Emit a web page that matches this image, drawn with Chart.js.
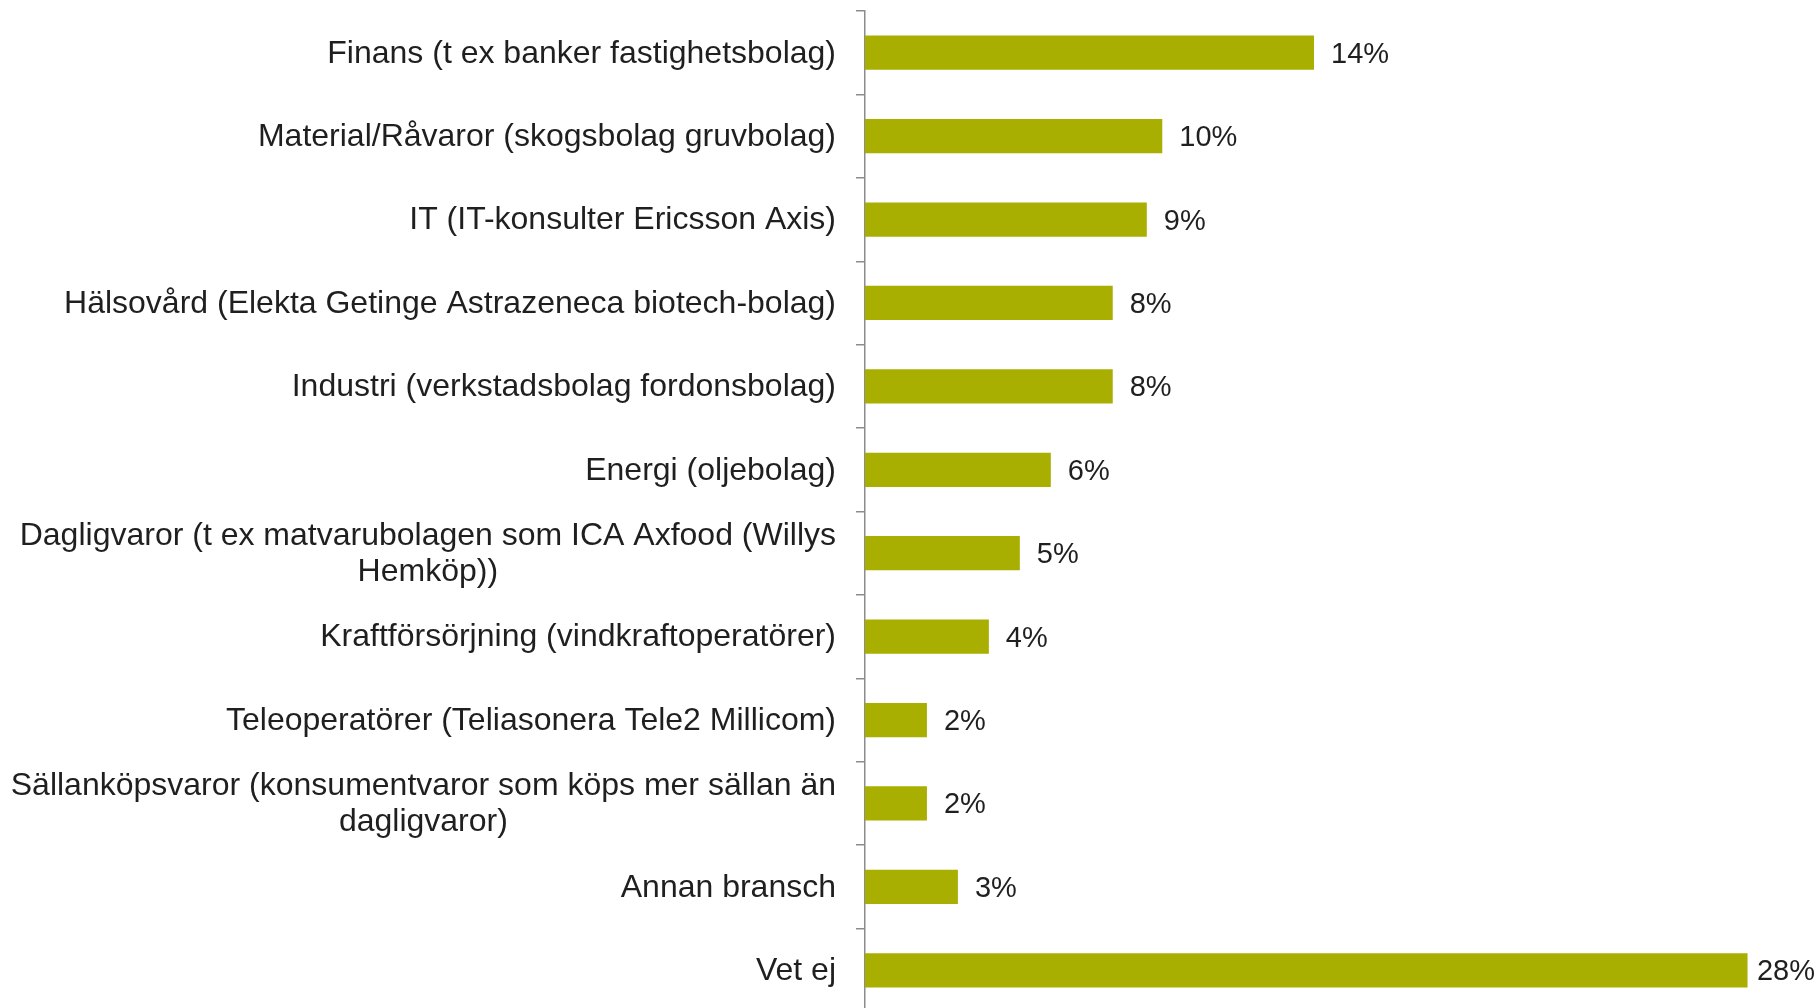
<!DOCTYPE html>
<html>
<head>
<meta charset="utf-8">
<script src="https://cdn.jsdelivr.net/npm/chart.js@4"></script>
<style>
  html, body { margin: 0; background: #fff; overflow: hidden; }
  #wrap { width: 1820px; height: 1012px; position: relative; }
</style>
</head>
<body>
<div id="wrap"><canvas id="branschChart"></canvas></div>
<script>
  // categories (multi-line ones as arrays)
  const categories = [
    'Finans (t ex banker fastighetsbolag)',
    'Material/Råvaror (skogsbolag gruvbolag)',
    'IT (IT-konsulter Ericsson Axis)',
    'Hälsovård (Elekta Getinge Astrazeneca biotech-bolag)',
    'Industri (verkstadsbolag fordonsbolag)',
    'Energi (oljebolag)',
    ['Dagligvaror (t ex matvarubolagen som ICA Axfood (Willys', 'Hemköp))'],
    'Kraftförsörjning (vindkraftoperatörer)',
    'Teleoperatörer (Teliasonera Tele2 Millicom)',
    ['Sällanköpsvaror (konsumentvaror som köps mer sällan än', 'dagligvaror)'],
    'Annan bransch',
    'Vet ej'
  ];
  const shares = [14.5, 9.6, 9.1, 8.0, 8.0, 6.0, 5.0, 4.0, 2.0, 2.0, 3.0, 28.5];
  const valueLabels = ['14%', '10%', '9%', '8%', '8%', '6%', '5%', '4%', '2%', '2%', '3%', '28%'];

  const barColor = '#A8AF00';
  const axisColor = '#8C8C8C';
  const textColor = '#1F1F1F';
  const fontFamily = '"Liberation Sans", Arial, sans-serif';

  // draws the category labels: block right-aligned, lines centred inside the block
  const categoryLabels = {
    id: 'categoryLabels',
    afterDraw(chart) {
      const ctx = chart.ctx;
      const yScale = chart.scales.y;
      const right = chart.chartArea.left - 29;
      const lineHeight = 36;
      ctx.save();
      ctx.font = '32px ' + fontFamily;
      ctx.fillStyle = textColor;
      ctx.textAlign = 'center';
      ctx.textBaseline = 'middle';
      categories.forEach((label, i) => {
        const lines = Array.isArray(label) ? label : [label];
        const widest = Math.max(...lines.map(l => ctx.measureText(l).width));
        const cx = right - widest / 2;
        const yMid = yScale.getPixelForValue(i) + 1;
        const top = yMid - (lines.length - 1) * lineHeight / 2;
        lines.forEach((line, k) => {
          ctx.fillText(line, cx, top + k * lineHeight);
        });
      });
      ctx.restore();
    }
  };

  // value labels at the end of each bar, kept inside the visible width
  const valueLabelPlugin = {
    id: 'valueLabels',
    afterDatasetsDraw(chart) {
      const ctx = chart.ctx;
      const meta = chart.getDatasetMeta(0);
      ctx.save();
      ctx.font = '29px ' + fontFamily;
      ctx.fillStyle = textColor;
      ctx.textAlign = 'left';
      ctx.textBaseline = 'middle';
      meta.data.forEach((bar, i) => {
        const w = ctx.measureText(valueLabels[i]).width;
        const x = Math.min(bar.x + 17, chart.width - 5 - w);
        ctx.fillText(valueLabels[i], x, bar.y + 2);
      });
      ctx.restore();
    }
  };

  const ctx = document.getElementById('branschChart').getContext('2d');
  new Chart(ctx, {
    type: 'bar',
    data: {
      labels: categories,
      datasets: [{
        data: shares,
        backgroundColor: barColor,
        borderWidth: 0,
        categoryPercentage: 1,
        barPercentage: 0.41
      }]
    },
    options: {
      indexAxis: 'y',
      responsive: true,
      maintainAspectRatio: false,
      animation: false,
      layout: { padding: { top: 11, right: 26, bottom: 0, left: 0 } },
      plugins: {
        legend: { display: false },
        tooltip: { enabled: false }
      },
      scales: {
        x: {
          display: false,
          min: 0,
          max: 30
        },
        y: {
          ticks: { display: false },
          grid: {
            drawOnChartArea: false,
            drawTicks: true,
            tickLength: 9,
            color: axisColor,
            lineWidth: 1.5
          },
          border: { display: true, color: axisColor, width: 1.5 },
          afterFit(scale) {
            scale.width = 865;
          }
        }
      }
    },
    plugins: [categoryLabels, valueLabelPlugin]
  });
</script>
</body>
</html>
